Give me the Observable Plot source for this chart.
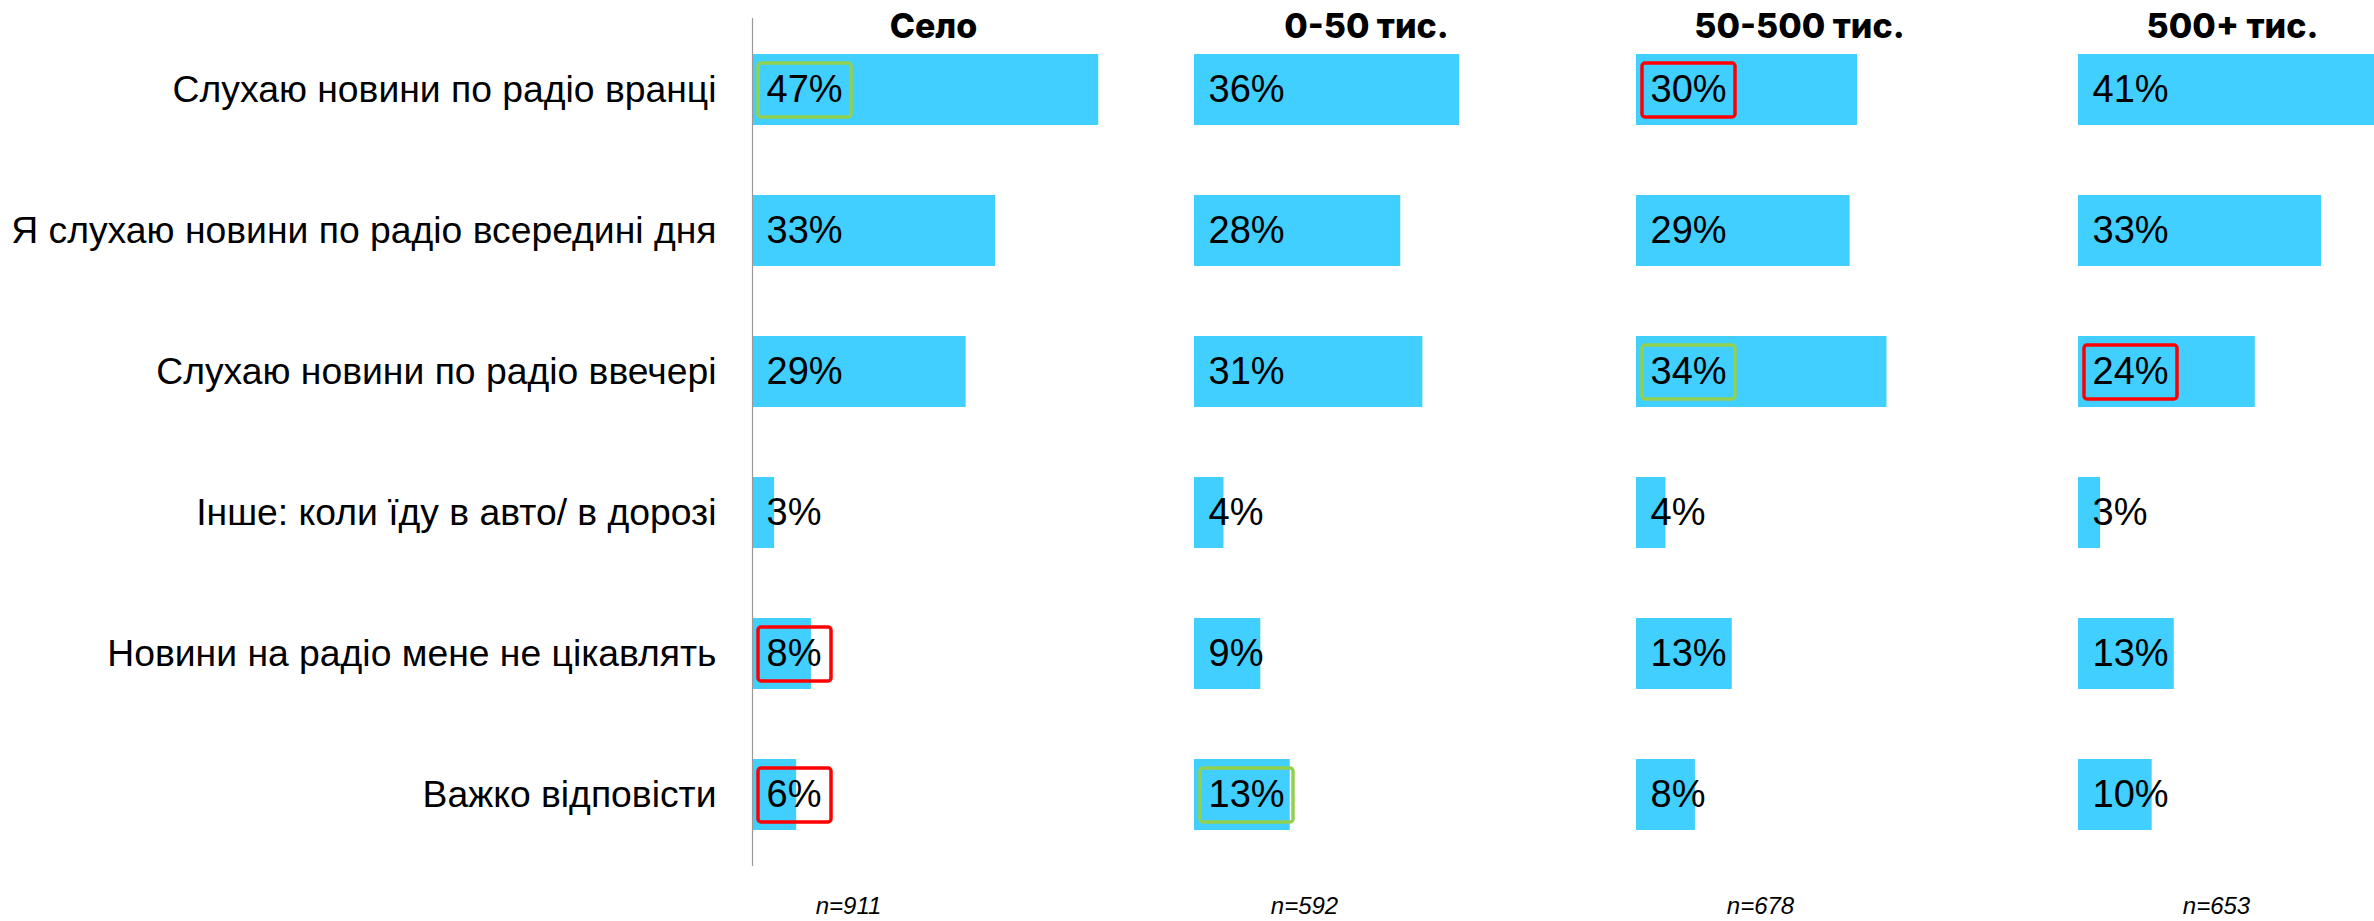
<!DOCTYPE html>
<html>
<head>
<meta charset="utf-8">
<script src="https://cdn.jsdelivr.net/npm/d3@7"></script>
<script src="https://cdn.jsdelivr.net/npm/@observablehq/plot@0.6"></script>
<style>
  html, body { margin: 0; padding: 0; background: #fff; overflow: hidden; }
  #chart { width: 2374px; height: 921px; overflow: hidden; }
  #chart svg { display: block; max-width: none !important; }
</style>
</head>
<body>
<div id="chart"></div>
<script>
const groups = ["Село", "0-50 тис.", "50-500 тис.", "500+ тис."];
const categories = [
  "Слухаю новини по радіо вранці",
  "Я слухаю новини по радіо всередині дня",
  "Слухаю новини по радіо ввечері",
  "Інше: коли їду в авто/ в дорозі",
  "Новини на радіо мене не цікавлять",
  "Важко відповісти"
];
const valuesSelo   = [47, 33, 29, 3, 8, 6];
const values0_50   = [36, 28, 31, 4, 9, 13];
const values50_500 = [30, 29, 34, 4, 13, 8];
const values500    = [41, 33, 24, 3, 13, 10];
const sampleSizes  = ["n=911", "n=592", "n=678", "n=653"];
const greenMarks = [["Село", 0], ["50-500 тис.", 2], ["0-50 тис.", 5]];
const redMarks   = [["50-500 тис.", 0], ["500+ тис.", 2], ["Село", 4], ["Село", 5]];

const seriesByGroup = [valuesSelo, values0_50, values50_500, values500];
const data = [];
groups.forEach((g, gi) => categories.forEach((c, ci) =>
  data.push({group: g, category: c, value: seriesByGroup[gi][ci]})));
const lookup = (g, ci) => data.find(d => d.group === g && d.category === categories[ci]);
const greens = greenMarks.map(([g, ci]) => lookup(g, ci));
const reds = redMarks.map(([g, ci]) => lookup(g, ci));
const nData = groups.map((g, i) => ({group: g, n: sampleSizes[i]}));

const FONT = "'Liberation Sans', Arial, sans-serif";
const BAR = "#41CFFF";

function boxMarks(rows, color) {
  const common = {y: "category", fx: "group", x1: 0, x2: 0, fill: "none",
    stroke: color, strokeWidth: 3.5, rx: 3, insetTop: 9, insetBottom: 8, insetLeft: 6};
  return [
    Plot.barX(rows.filter(d => d.value >= 10), {...common, insetRight: -(6 + 93)}),
    Plot.barX(rows.filter(d => d.value < 10), {...common, insetRight: -(6 + 73)})
  ];
}

const titleMarks = groups.map((g, i) =>
  Plot.text([g], {fx: d => d, text: d => d, frameAnchor: "top", lineAnchor: "middle",
    dy: 9, dx: -40 - 9 * i, fontSize: 34, fontWeight: 800,
    fontFamily: "Inter, sans-serif", fill: "#000"}));
const nMarks = nData.map((d, i) =>
  Plot.text([d], {fx: "group", text: "n", frameAnchor: "bottom", lineAnchor: "middle",
    dy: 40, dx: -125 + 14 * i, fontSize: 24, fontStyle: "italic", fill: "#000"}));

const chart = Plot.plot({
  width: 752 + 4 * 442,
  height: 921,
  marginLeft: 752,
  marginRight: 0,
  marginTop: 18,
  marginBottom: 55,
  style: {fontFamily: FONT, background: "#fff", maxWidth: "none"},
  fx: {domain: groups, padding: 0, axis: null},
  x: {domain: [0, 60], axis: null},
  y: {domain: categories, paddingInner: 0.5, paddingOuter: 0.25, axis: null},
  marks: [
    Plot.barX(data, {x: "value", y: "category", fx: "group", fill: BAR}),
    Plot.ruleX([{group: groups[0], v: 0}], {x: "v", fx: "group", stroke: "#999", strokeWidth: 1.2}),
    ...boxMarks(greens, "#92D050"),
    ...boxMarks(reds, "#FF0000"),
    Plot.text(data, {x: 0, y: "category", fx: "group", text: d => d.value + "%",
      textAnchor: "start", dx: 14, fontSize: 38, fill: "#000"}),
    Plot.axisY({tickSize: 0, tickPadding: 36, fontSize: 37.3, fill: "#000", label: null}),
    ...titleMarks,
    ...nMarks
  ]
});
document.getElementById("chart").appendChild(chart);
</script>
</body>
</html>
